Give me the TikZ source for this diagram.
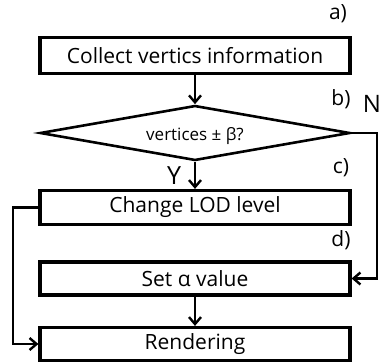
\documentclass[tikz,border=0pt]{standalone}
\usepackage{fontspec}
\setmainfont{Open Sans}
\usetikzlibrary{shapes.geometric,arrows.meta}
\begin{document}
\begin{tikzpicture}[x=1pt,y=-1pt,
  every node/.style={font=\fontsize{21}{24}\selectfont},
  procbox/.style={draw,line width=3.2pt,minimum width=310pt,inner sep=0pt},
  decide/.style={draw,diamond,line width=2.6pt,minimum width=310pt,minimum height=55pt,aspect=5.6,inner sep=0pt},
  flow/.style={line width=2.6pt,-{Straight Barb[length=7pt,width=12pt,line width=2.4pt]}},
  lbl/.style={font=\fontsize{21}{24}\selectfont,inner sep=0pt}]
\useasboundingbox (0,0) rectangle (380,362);
\node[procbox,minimum height=36pt] (collect) at (195,55.5) {Collect vertics information};
\node[decide] (dec) at (195,133) {};
\node[font=\fontsize{17}{20}\selectfont] (dectext) at (195,136) {vertices ± β?};
\node[procbox,minimum height=34pt] (lod) at (195,207.5) {Change LOD level};
\node[procbox,minimum height=33pt] (alpha) at (195,278.5) {Set α value};
\node[procbox,minimum height=33pt] (render) at (195,344) {Rendering};
\node[lbl] (la) at (338,14) {a)};
\node[lbl] (lb) at (341,99) {b)};
\node[lbl,font=\fontsize{24}{26}\selectfont] (ln) at (372,104) {N};
\node[lbl] (lc) at (341,168) {c)};
\node[lbl] (ld) at (341,240) {d)};
\node[lbl,font=\fontsize{25}{27}\selectfont] (ly) at (174,176) {Y};
\coordinate (nturn) at (377,133);
\coordinate (lturn) at (13,207.5);
\draw[flow] (collect) -- (dec.north);
\draw[flow] (dec.south) -- (lod);
\draw[flow] (alpha) -- (render);
\draw[flow] (dec.east) -- (nturn) |- (alpha.east);
\draw[flow] (lod.west) -- (lturn) |- (render.west);
\end{tikzpicture}
\end{document}
